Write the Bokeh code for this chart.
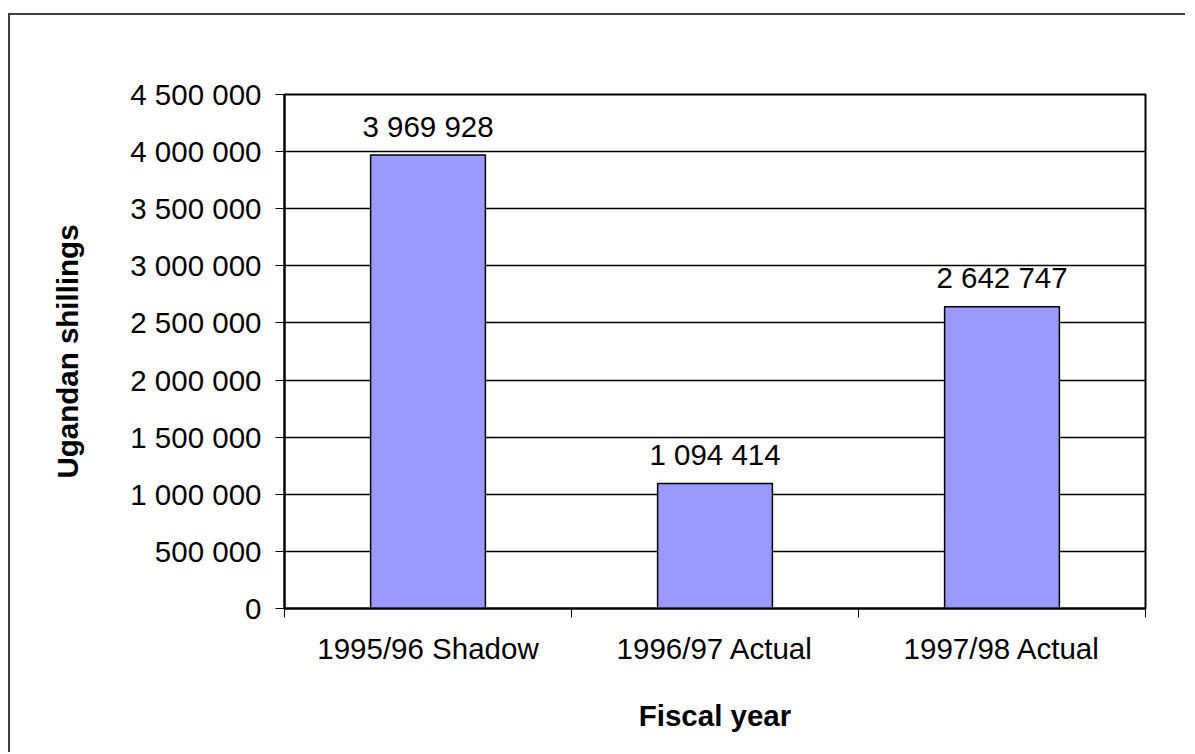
from bokeh.plotting import figure
from bokeh.models import FixedTicker, Range1d
from bokeh.core.properties import value
from bokeh.embed import file_html
from bokeh.resources import INLINE

categories = ["1995/96 Shadow", "1996/97 Actual", "1997/98 Actual"]
amounts = [3969928, 1094414, 2642747]
y_ticks = [0, 500000, 1000000, 1500000, 2000000, 2500000, 3000000, 3500000, 4000000, 4500000]


def fmt(v):
    return f"{v:,}".replace(",", " ")


FONT = "Liberation Sans"
FS = "29.5px"

W, H = 1177, 739
p = figure(width=W, height=H, output_backend="svg", toolbar_location=None,
           x_range=Range1d(0, 3), y_range=Range1d(0, 4500000),
           min_border_left=274, min_border_top=79, min_border_bottom=146, min_border_right=42)
p.styles = {"border-left": "2px solid #404040", "border-top": "2px solid #404040",
            "margin-top": "13px", "margin-left": "8px"}
p.background_fill_color = "white"
p.border_fill_color = "white"
p.outline_line_color = "black"
p.outline_line_width = 2

xs = [i + 0.5 for i in range(len(categories))]
p.vbar(x=xs, top=amounts, width=0.4, fill_color="#9999FF", line_color="black", line_width=1.5)
p.text(x=xs, y=amounts, text=[fmt(a) for a in amounts], text_align="center",
       text_baseline="alphabetic", y_offset=-29, text_font=value(FONT),
       text_font_size=FS, text_color="black")

# x axis
p.xaxis.ticker = FixedTicker(ticks=xs, minor_ticks=[0, 1, 2, 3])
p.xaxis.major_label_overrides = {x: c for x, c in zip(xs, categories)}
p.xaxis.major_tick_out = 0
p.xaxis.major_tick_in = 0
p.xaxis.minor_tick_out = 9
p.xaxis.minor_tick_in = 0
p.xaxis.minor_tick_line_color = "black"
p.xaxis.minor_tick_line_width = 1
p.xaxis.axis_line_color = "black"
p.xaxis.axis_line_width = 2
p.xaxis.major_label_standoff = 14
p.xaxis.axis_label = "Fiscal year"
p.xaxis.axis_label_standoff = 31

# y axis
p.yaxis.ticker = FixedTicker(ticks=y_ticks, minor_ticks=[])
p.yaxis.major_label_overrides = {t: fmt(t) for t in y_ticks}
p.yaxis.major_tick_out = 9
p.yaxis.major_tick_in = 0
p.yaxis.major_tick_line_color = "black"
p.yaxis.major_tick_line_width = 1
p.yaxis.axis_line_color = "black"
p.yaxis.axis_line_width = 2
p.yaxis.major_label_standoff = 14
p.yaxis.axis_label = "Ugandan shillings"
p.yaxis.axis_label_standoff = 43

for ax in (p.xaxis, p.yaxis):
    ax.major_label_text_font = FONT
    ax.major_label_text_font_size = FS
    ax.major_label_text_color = "black"
    ax.axis_label_text_font = FONT
    ax.axis_label_text_font_size = FS
    ax.axis_label_text_font_style = "bold"
    ax.axis_label_text_color = "black"

p.xgrid.visible = False
p.ygrid.ticker = FixedTicker(ticks=y_ticks)
p.ygrid.grid_line_color = "black"
p.ygrid.grid_line_width = 1.5

open("out.html", "w").write(file_html(p, INLINE))
